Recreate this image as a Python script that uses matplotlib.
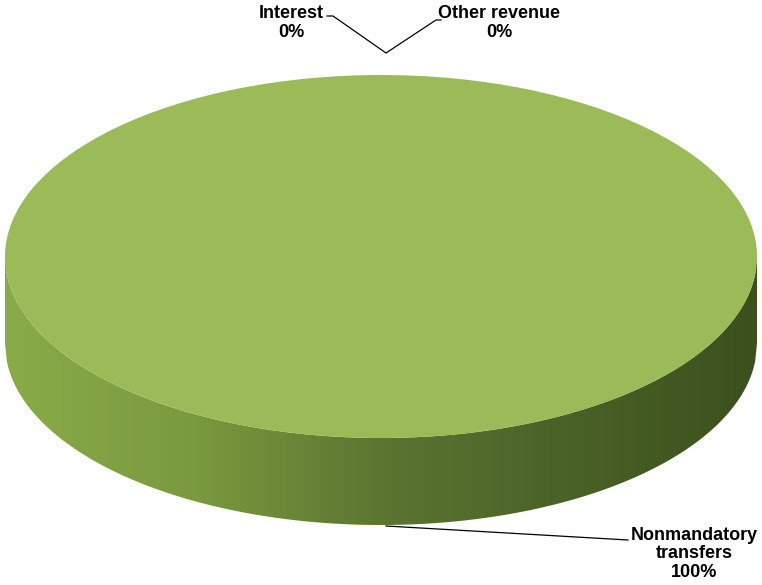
import numpy as np
import matplotlib
matplotlib.use("Agg")
import matplotlib.pyplot as plt
from matplotlib.patches import Polygon
from matplotlib.colors import LinearSegmentedColormap

categories = ["Interest", "Other revenue", "Nonmandatory transfers"]
values = [0, 0, 100]
pct_labels = ["0%", "0%", "100%"]

W, H = 762, 585
fig = plt.figure(figsize=(W / 100, H / 100), dpi=100)
bg = fig.add_axes([0, 0, 1, 1])
bg.set_xlim(0, W)
bg.set_ylim(H, 0)
bg.axis("off")

# geometry (pixels)
cx, cy, rx, ry, depth = 381, 256.5, 376, 181.5, 87

# side wall
xs = np.linspace(cx - rx, cx + rx, 400)
yt = cy + ry * np.sqrt(np.clip(1 - ((xs - cx) / rx) ** 2, 0, 1))
verts = np.concatenate([np.column_stack([xs, yt]),
                        np.column_stack([xs[::-1], yt[::-1] + depth])])
side = Polygon(verts, closed=True, facecolor="none", edgecolor="none")
bg.add_patch(side)
cmap = LinearSegmentedColormap.from_list(
    "side", ["#8aab49", "#7a9a3e", "#5c7531", "#4a6127", "#3c501d"])
grad = np.linspace(0, 1, 256).reshape(1, -1)
im = bg.imshow(grad, cmap=cmap, extent=[cx - rx, cx + rx, cy + ry + depth, cy - 5],
               aspect="auto", zorder=1)
im.set_clip_path(side)
bg.set_xlim(0, W)
bg.set_ylim(H, 0)

# top of pie
x0, y0 = cx - rx, cy + ry
pax = fig.add_axes([x0 / W, 1 - y0 / H, 2 * rx / W, 2 * ry / H])
pax.pie(values, colors=["#4f81bd", "#c0504d", "#9bbb59"], startangle=90,
        counterclock=False, radius=1, wedgeprops=dict(linewidth=0))
pax.set_aspect("auto")
pax.set_xlim(-1, 1)
pax.set_ylim(-1, 1)
pax.axis("off")

# leader lines
bg.plot([327, 333, 386, 436, 441], [16, 16, 53, 20, 20], color="black", lw=0.9, zorder=5)
bg.plot([386, 628], [526, 540], color="black", lw=0.9, zorder=5)

font = dict(family="Liberation Sans", fontweight="bold", fontsize=13, color="black",
            ha="center", va="center", linespacing=1.15)
bg.text(291, 23, categories[0] + "\n" + pct_labels[0], **font)
bg.text(499, 23, categories[1] + "\n" + pct_labels[1], **font)
bg.text(694, 554, "Nonmandatory\ntransfers\n" + pct_labels[2], **font)

fig.savefig("out.png", dpi=100)
